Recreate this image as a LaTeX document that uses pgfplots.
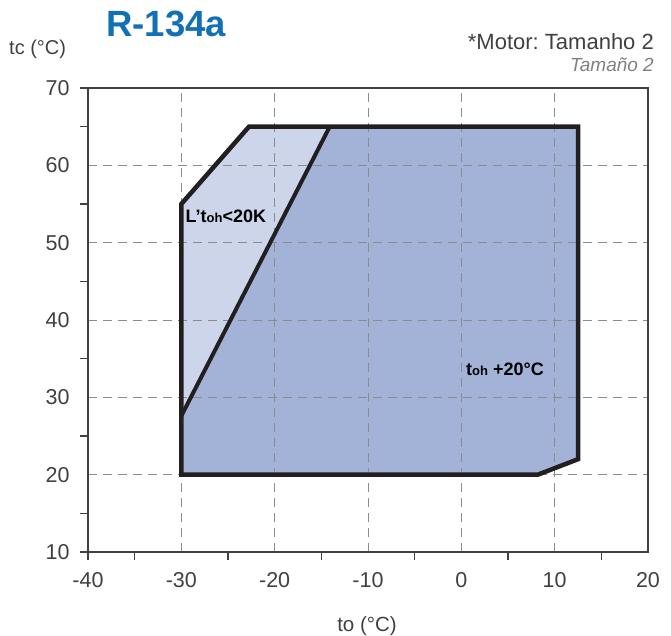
\documentclass[border=0pt]{standalone}
\usepackage{pgfplots}
\pgfplotsset{compat=1.18}
\usepackage{fontspec}
\setmainfont{Liberation Sans}
\definecolor{darkfill}{RGB}{162,179,215}
\definecolor{lightfill}{RGB}{204,213,234}
\definecolor{titleblue}{RGB}{18,112,183}
\definecolor{txtgray}{RGB}{64,64,64}
\definecolor{outlinec}{RGB}{35,31,32}
\begin{document}
\frenchspacing
\begin{tikzpicture}
\begin{axis}[
  set layers,
  scale only axis, width=560pt, height=464pt,
  xmin=-40, xmax=20, ymin=10, ymax=70,
  xtick={-40,-30,...,20}, ytick={10,20,...,70},
  minor xtick={-40,-35,-25,-15,-5,5,15},
  minor ytick={10,15,25,35,45,55,65,70},
  major tick length=0pt, minor tick length=8pt,
  tick align=outside, tick pos=left,
  grid=major,
  major grid style={gray!90, line width=0.8pt, dash pattern=on 9pt off 6pt},
  axis line style={txtgray, line width=1.2pt},
  every tick/.style={txtgray, line width=1.2pt},
  ticklabel style={font=\fontsize{21.5}{25}\selectfont, text=txtgray},
  /pgf/number format/assume math mode=true,
  xticklabel style={yshift=-17pt},
  yticklabel style={xshift=-15pt},
]
\addplot[fill=darkfill, draw=none, on layer=axis background] coordinates {(-30,20) (-30,27.6) (-14.1,65) (12.5,65) (12.5,22) (8.2,20)} -- cycle;
\addplot[fill=lightfill, draw=none, on layer=axis background] coordinates {(-30,27.6) (-30,55) (-22.75,65) (-14.1,65)} -- cycle;
\addplot[draw=outlinec, line width=4.5pt, line join=miter] coordinates {(-30,20) (-30,55) (-22.75,65) (12.5,65) (12.5,22) (8.2,20)} -- cycle;
\addplot[draw=outlinec, line width=4pt] coordinates {(-30,27.6) (-14.1,65)};
\node[anchor=base west, inner sep=0pt, font=\bfseries\fontsize{18}{20}\selectfont] at (axis cs:-29.55,52.55) {L’t{\fontsize{13}{14}\selectfont oh}<20K};
\node[anchor=base west, inner sep=0pt, font=\bfseries\fontsize{18}{20}\selectfont] at (axis cs:0.5,32.76) {t{\fontsize{13}{14}\selectfont oh} +20°C};
\end{axis}
\node[anchor=base west, inner sep=0pt, font=\bfseries\fontsize{36.5}{40}\selectfont, text=titleblue] at (18pt,515pt) {R-134a};
\node[anchor=base west, inner sep=0pt, font=\fontsize{20}{24}\selectfont, text=txtgray] at (-79pt,497pt) {tc (°C)};
\node[anchor=base east, inner sep=0pt, font=\fontsize{22}{26}\selectfont, text=txtgray] at (566pt,502pt) {*Motor: Tamanho 2};
\node[anchor=base east, inner sep=0pt, font=\itshape\fontsize{19}{22}\selectfont, text=gray] at (566pt,480pt) {Tamaño 2};
\node[anchor=base, inner sep=0pt, font=\fontsize{20.5}{24}\selectfont, text=txtgray] at (279pt,-79pt) {to (°C)};
\pgfresetboundingbox
\path (-88pt,-84pt) rectangle (583pt,552pt);
\end{tikzpicture}
\end{document}
